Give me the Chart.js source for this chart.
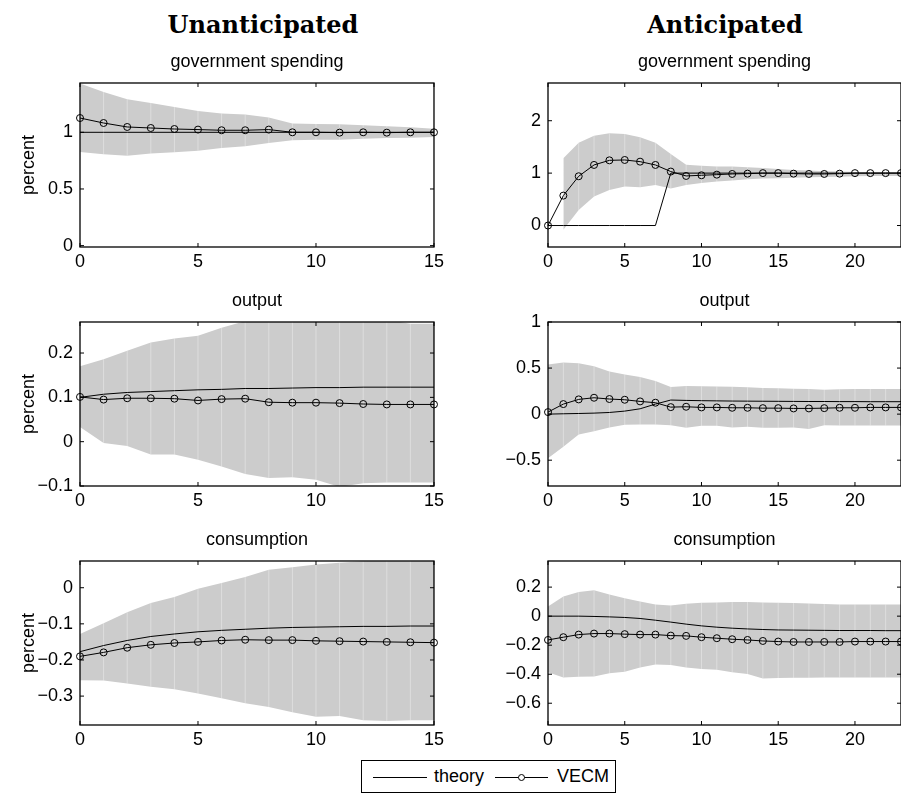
<!DOCTYPE html>
<html>
<head>
<meta charset="utf-8">
<script src="https://cdn.jsdelivr.net/npm/chart.js@4.4.1/dist/chart.umd.min.js"></script>
<style>
html, body { margin: 0; padding: 0; overflow: hidden; background: #fff; }
body { width: 901px; height: 794px; position: relative; font-family: "Liberation Sans", Arial, sans-serif; color: #000; }
canvas { position: absolute; }
.head { position: absolute; top: 11px; width: 300px; text-align: center; font: bold 24px/28px "DejaVu Serif", serif; }
#legend { position: absolute; left: 361px; top: 760px; width: 253px; height: 31px; border: 1px solid #000;
  display: flex; align-items: center; font-size: 18px; box-sizing: content-box; }
#legend svg { display: block; }
</style>
</head>
<body>
<div class="head" style="left:113px">Unanticipated</div>
<div class="head" style="left:575px">Anticipated</div>

<canvas id="govU" width="450" height="230" style="left:0;top:47px"></canvas>
<canvas id="govA" width="470" height="230" style="left:450px;top:47px"></canvas>
<canvas id="outU" width="450" height="230" style="left:0;top:286px"></canvas>
<canvas id="outA" width="470" height="230" style="left:450px;top:286px"></canvas>
<canvas id="conU" width="450" height="230" style="left:0;top:525px"></canvas>
<canvas id="conA" width="470" height="230" style="left:450px;top:525px"></canvas>

<div id="legend">
  <svg width="54" height="12" style="margin-left:11px"><line x1="0" y1="6.5" x2="54" y2="6.5" stroke="#000" stroke-width="1"/></svg>
  <span style="margin-left:7px">theory</span>
  <svg width="53" height="12" style="margin-left:11px"><line x1="0" y1="6.5" x2="53" y2="6.5" stroke="#000" stroke-width="1"/><circle cx="26.5" cy="6.5" r="3" fill="#fff" stroke="#000" stroke-width="1"/></svg>
  <span style="margin-left:9px">VECM</span>
</div>

<script>
// quarters after the shock
var horizonU = [0, 1, 2, 3, 4, 5, 6, 7, 8, 9, 10, 11, 12, 13, 14, 15];
var horizonA = [0, 1, 2, 3, 4, 5, 6, 7, 8, 9, 10, 11, 12, 13, 14, 15, 16, 17, 18, 19, 20, 21, 22, 23];

// government spending
var govU_theory = [1, 1, 1, 1, 1, 1, 1, 1, 1, 1, 1, 1, 1, 1, 1, 1];
var govU_vecm = [1.126, 1.082, 1.047, 1.038, 1.029, 1.024, 1.018, 1.018, 1.024, 1.0, 1.0, 0.997, 1.0, 0.997, 1.0, 1.0];
var govU_hi = [1.43, 1.356, 1.291, 1.259, 1.223, 1.188, 1.165, 1.156, 1.13, 1.077, 1.074, 1.071, 1.062, 1.053, 1.044, 1.032];
var govU_lo = [0.826, 0.806, 0.794, 0.812, 0.823, 0.838, 0.862, 0.876, 0.906, 0.929, 0.935, 0.935, 0.944, 0.95, 0.953, 0.959];

var govA_theory = [0, 0, 0, 0, 0, 0, 0, 0, 1, 1, 1, 1, 1, 1, 1, 1, 1, 1, 1, 1, 1, 1, 1, 1];
var govA_vecm = [0, 0.571, 0.94, 1.156, 1.244, 1.251, 1.219, 1.156, 1.03, 0.946, 0.959, 0.971, 0.984, 0.99, 1.0, 1.0, 0.99, 0.984, 0.984, 0.99, 1.0, 1.0, 1.0, 1.0];
var govA_hi = [null, 1.283, 1.581, 1.714, 1.759, 1.746, 1.683, 1.581, 1.365, 1.162, 1.143, 1.124, 1.124, 1.111, 1.098, 1.079, 1.06, 1.048, 1.035, 1.029, 1.022, 1.022, 1.022, 1.022];
var govA_lo = [null, -0.083, 0.298, 0.552, 0.679, 0.743, 0.73, 0.775, 0.705, 0.775, 0.813, 0.838, 0.857, 0.883, 0.895, 0.902, 0.914, 0.921, 0.927, 0.933, 0.94, 0.945, 0.945, 0.945];

// output
var outU_theory = [0.1, 0.107, 0.111, 0.113, 0.115, 0.117, 0.118, 0.12, 0.12, 0.121, 0.122, 0.122, 0.123, 0.123, 0.123, 0.123];
var outU_vecm = [0.101, 0.095, 0.098, 0.098, 0.097, 0.093, 0.096, 0.097, 0.089, 0.088, 0.088, 0.087, 0.085, 0.084, 0.084, 0.084];
var outU_hi = [0.17, 0.186, 0.205, 0.224, 0.233, 0.239, 0.257, 0.272, 0.28, 0.285, 0.29, 0.29, 0.285, 0.275, 0.266, 0.266];
var outU_lo = [0.033, -0.003, -0.01, -0.029, -0.029, -0.041, -0.056, -0.073, -0.082, -0.08, -0.086, -0.102, -0.094, -0.092, -0.092, -0.092];

var outA_theory = [0, 0.004, 0.007, 0.011, 0.018, 0.033, 0.058, 0.109, 0.153, 0.149, 0.146, 0.144, 0.142, 0.141, 0.14, 0.139, 0.138, 0.137, 0.137, 0.136, 0.136, 0.135, 0.135, 0.135];
var outA_vecm = [0.022, 0.109, 0.16, 0.178, 0.164, 0.156, 0.138, 0.124, 0.076, 0.08, 0.073, 0.073, 0.069, 0.069, 0.065, 0.065, 0.062, 0.062, 0.065, 0.069, 0.069, 0.073, 0.073, 0.073];
var outA_hi = [0.538, 0.56, 0.553, 0.52, 0.462, 0.429, 0.404, 0.36, 0.295, 0.305, 0.302, 0.3, 0.298, 0.291, 0.284, 0.28, 0.276, 0.273, 0.265, 0.269, 0.273, 0.273, 0.273, 0.273];
var outA_lo = [-0.48, -0.353, -0.222, -0.185, -0.145, -0.116, -0.113, -0.113, -0.12, -0.149, -0.127, -0.127, -0.145, -0.138, -0.149, -0.149, -0.145, -0.16, -0.12, -0.124, -0.124, -0.124, -0.124, -0.124];

// consumption
var conU_theory = [-0.177, -0.16, -0.146, -0.135, -0.128, -0.122, -0.118, -0.115, -0.112, -0.11, -0.109, -0.108, -0.107, -0.107, -0.106, -0.106];
var conU_vecm = [-0.19, -0.179, -0.166, -0.158, -0.153, -0.15, -0.146, -0.144, -0.145, -0.145, -0.147, -0.148, -0.149, -0.15, -0.151, -0.152];
var conU_hi = [-0.128, -0.098, -0.068, -0.042, -0.026, -0.003, 0.013, 0.03, 0.05, 0.057, 0.064, 0.069, 0.073, 0.076, 0.078, 0.078];
var conU_lo = [-0.256, -0.257, -0.265, -0.274, -0.281, -0.293, -0.306, -0.32, -0.33, -0.345, -0.357, -0.355, -0.367, -0.369, -0.367, -0.367];

var conA_theory = [0, 0, 0, -0.002, -0.005, -0.009, -0.016, -0.028, -0.041, -0.055, -0.067, -0.076, -0.083, -0.088, -0.092, -0.095, -0.096, -0.097, -0.098, -0.099, -0.099, -0.099, -0.1, -0.1];
var conA_vecm = [-0.164, -0.145, -0.127, -0.12, -0.12, -0.124, -0.127, -0.127, -0.134, -0.136, -0.145, -0.152, -0.159, -0.164, -0.171, -0.175, -0.178, -0.178, -0.178, -0.178, -0.175, -0.175, -0.175, -0.175];
var conA_hi = [0.067, 0.136, 0.166, 0.178, 0.15, 0.124, 0.101, 0.081, 0.074, 0.085, 0.092, 0.094, 0.097, 0.097, 0.094, 0.092, 0.09, 0.088, 0.083, 0.081, 0.081, 0.081, 0.081, 0.081];
var conA_lo = [-0.387, -0.422, -0.417, -0.415, -0.394, -0.383, -0.353, -0.334, -0.337, -0.353, -0.364, -0.369, -0.387, -0.399, -0.429, -0.427, -0.425, -0.425, -0.422, -0.422, -0.422, -0.422, -0.422, -0.422];

Chart.defaults.font.family = '"Liberation Sans", Arial, sans-serif';
Chart.defaults.font.size = 18;
Chart.defaults.color = '#000';

// matlab style: full box and inward ticks on all four sides
var framePlugin = {
    id: 'frame',
    afterDraw: function(chart) {
        var ctx = chart.ctx, a = chart.chartArea;
        var xs = chart.scales.x, ys = chart.scales.y;
        ctx.save();
        ctx.strokeStyle = '#000';
        ctx.lineWidth = 1;
        ctx.beginPath();
        xs.ticks.forEach(function(t) {
            var px = xs.getPixelForValue(t.value);
            ctx.moveTo(px, a.bottom); ctx.lineTo(px, a.bottom - 4);
            ctx.moveTo(px, a.top); ctx.lineTo(px, a.top + 4);
        });
        ys.ticks.forEach(function(t) {
            var py = ys.getPixelForValue(t.value);
            ctx.moveTo(a.left, py); ctx.lineTo(a.left + 4, py);
            ctx.moveTo(a.right, py); ctx.lineTo(a.right - 4, py);
        });
        ctx.stroke();
        ctx.lineWidth = 1.3;
        ctx.strokeRect(a.left, a.top, a.right - a.left, a.bottom - a.top);
        ctx.restore();
    }
};

// light seams between the band patches, like the exported figure
var seamPlugin = {
    id: 'seams',
    afterDatasetDraw: function(chart, args) {
        var ds = chart.data.datasets[args.index];
        if (!ds.seams) return;
        var lo = chart.data.datasets[args.index + 1].data;
        var hi = ds.data;
        var xs = chart.scales.x, ys = chart.scales.y, a = chart.chartArea;
        var ctx = chart.ctx;
        ctx.save();
        ctx.beginPath();
        ctx.rect(a.left, a.top, a.right - a.left, a.bottom - a.top);
        ctx.clip();
        ctx.strokeStyle = 'rgba(255,255,255,0.35)';
        ctx.lineWidth = 1;
        ctx.beginPath();
        for (var i = 1; i < hi.length - 1; i++) {
            if (hi[i] === null || lo[i] === null || hi[i - 1] === null) continue;
            var px = xs.getPixelForValue(chart.data.labels[i]);
            ctx.moveTo(px, ys.getPixelForValue(hi[i]));
            ctx.lineTo(px, ys.getPixelForValue(lo[i]));
        }
        ctx.stroke();
        ctx.restore();
    }
};

function fmt(v) {
    return String(Math.round(v * 100) / 100).replace('-', '\u2212');
}

function makePanel(id, horizon, theory, vecm, lo, hi, yMin, yMax, yStep, title, right) {
    var ctx = document.getElementById(id).getContext('2d');
    return new Chart(ctx, {
        type: 'line',
        data: {
            labels: horizon,
            datasets: [
                { label: 'theory', data: theory, borderColor: '#000', borderWidth: 1, pointRadius: 0, fill: false },
                { label: 'VECM', data: vecm, borderColor: '#000', borderWidth: 1, pointRadius: 3.5,
                  pointBorderWidth: 1, pointBorderColor: '#000', pointBackgroundColor: 'rgba(0,0,0,0)', fill: false, clip: false },
                { label: 'upper', data: hi, borderWidth: 0, pointRadius: 0, backgroundColor: '#cccccc', fill: '+1', seams: true },
                { label: 'lower', data: lo, borderWidth: 0, pointRadius: 0, fill: false }
            ]
        },
        options: {
            responsive: false,
            animation: false,
            events: [],
            layout: { padding: { left: 0, right: right ? 19 : 16, top: 0, bottom: 0 } },
            plugins: {
                legend: { display: false },
                tooltip: { enabled: false },
                title: { display: true, text: title, fullSize: false, color: '#000',
                         font: { size: 18, weight: 'normal', lineHeight: 1.2 }, padding: { top: 4.4, bottom: 10 } }
            },
            scales: {
                x: {
                    type: 'linear', min: 0, max: right ? 23 : 15,
                    grid: { display: false, drawTicks: false },
                    border: { display: false },
                    ticks: { stepSize: 5, includeBounds: false, padding: 6, maxRotation: 0,
                             font: { size: 18, lineHeight: 1 }, callback: fmt },
                    afterFit: function(s) { s.height = 30; }
                },
                y: {
                    min: yMin, max: yMax,
                    grid: { display: false, drawTicks: false },
                    border: { display: false },
                    ticks: { stepSize: yStep, includeBounds: false, padding: 7, callback: fmt },
                    title: { display: !right, text: 'percent', font: { size: 18 }, padding: { top: 18, bottom: 0 } },
                    afterFit: function(s) { s.width = right ? 98 : 80; }
                }
            }
        },
        plugins: [seamPlugin, framePlugin]
    });
}

makePanel('govU', horizonU, govU_theory, govU_vecm, govU_lo, govU_hi, -0.012, 1.435, 0.5, 'government spending', false);
makePanel('govA', horizonA, govA_theory, govA_vecm, govA_lo, govA_hi, -0.41, 2.72, 1, 'government spending', true);
makePanel('outU', horizonU, outU_theory, outU_vecm, outU_lo, outU_hi, -0.1, 0.27, 0.1, 'output', false);
makePanel('outA', horizonA, outA_theory, outA_vecm, outA_lo, outA_hi, -0.78, 1.0, 0.5, 'output', true);
makePanel('conU', horizonU, conU_theory, conU_vecm, conU_lo, conU_hi, -0.38, 0.074, 0.1, 'consumption', false);
makePanel('conA', horizonA, conA_theory, conA_vecm, conA_lo, conA_hi, -0.75, 0.38, 0.2, 'consumption', true);
</script>
</body>
</html>
